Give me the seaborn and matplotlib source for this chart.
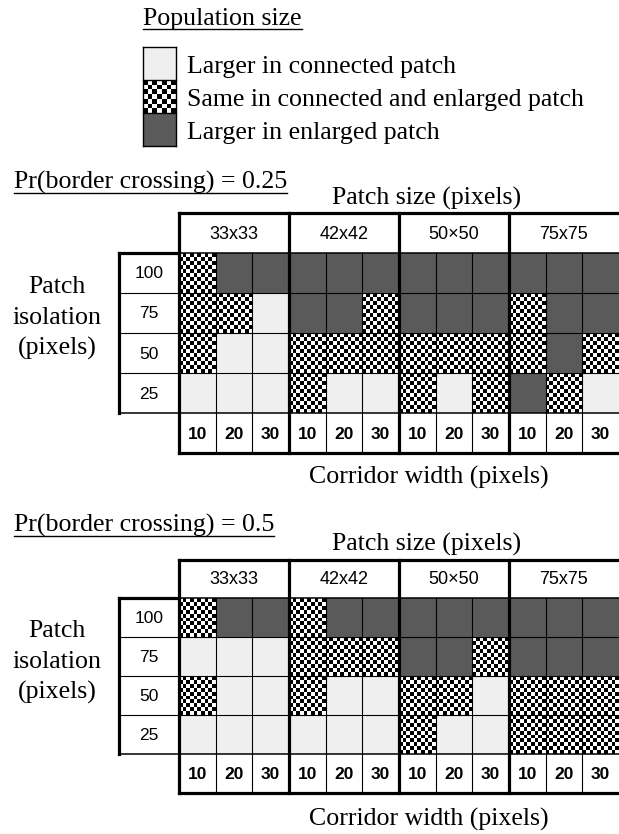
import numpy as np
import matplotlib
matplotlib.use("Agg")
import matplotlib.pyplot as plt
from matplotlib.colors import ListedColormap
import seaborn as sns

# ---------------- data ----------------
legend_title = "Population size"
legend_labels = ["Larger in connected patch",
                 "Same in connected and enlarged patch",
                 "Larger in enlarged patch"]
patch_sizes = ["33x33", "42x42", "50×50", "75x75"]
corridor_widths = ["10", "20", "30"]
isolation = ["100", "75", "50", "25"]
pr_titles = ["Pr(border crossing) = 0.25", "Pr(border crossing) = 0.5"]

# 0 = larger in connected, 1 = same, 2 = larger in enlarged
# rows: isolation 100,75,50,25 ; columns: patch size x corridor width
result_025 = [
    [1, 2, 2,  2, 2, 2,  2, 2, 2,  2, 2, 2],
    [1, 1, 0,  2, 2, 1,  2, 2, 2,  1, 2, 2],
    [1, 0, 0,  1, 1, 1,  1, 1, 1,  1, 2, 1],
    [0, 0, 0,  1, 0, 0,  1, 0, 1,  2, 1, 0],
]
result_05 = [
    [1, 2, 2,  1, 2, 2,  2, 2, 2,  2, 2, 2],
    [0, 0, 0,  1, 1, 1,  2, 2, 1,  2, 2, 2],
    [1, 0, 0,  1, 0, 0,  1, 1, 0,  1, 1, 1],
    [0, 0, 0,  0, 0, 0,  1, 0, 0,  1, 1, 1],
]
results = [result_025, result_05]

# ---------------- style ----------------
W, H = 619, 834
LIGHT, DARK = "#efefef", "#5a5a5a"
cmap = ListedColormap([LIGHT, "#ffffff", "#000000", DARK])
SERIF = ["Liberation Serif", "DejaVu Serif"]
SANS = ["Liberation Sans", "DejaVu Sans"]
FS_SERIF = 18.6

fig = plt.figure(figsize=(W / 100, H / 100), dpi=100)


def fig_rect(x0, y0, x1, y1):
    return [x0 / W, 1 - y1 / H, (x1 - x0) / W, (y1 - y0) / H]


def expand(mat, kx, ky):
    m = np.asarray(mat)
    big = np.kron(m, np.ones((ky, kx), dtype=int))
    rr, cc = np.indices(big.shape)
    checker = (rr + cc) % 2
    return np.where(big == 0, 0, np.where(big == 2, 3, 1 + checker))


def draw_heat(mat, rect, kx, ky):
    ax = fig.add_axes(fig_rect(*rect))
    sns.heatmap(expand(mat, kx, ky), cmap=cmap, vmin=-0.5, vmax=3.5,
                cbar=False, xticklabels=False, yticklabels=False, ax=ax)
    ax.set_axis_off()
    return ax


# legend swatches (heatmap of the three categories)
LEG = (143, 47, 176, 146)
draw_heat([[0], [1], [2]], LEG, 7, 7)

# panel geometry: (top, header bottom, grid bottom, bottom)
panels = [(213, 253, 413, 453), (560, 598, 754, 793)]
X0, X1 = 179, 619
NC = 12
colw = (X1 - X0) / NC
ROWBOX_X = 119

for res, (top, hb, gb, bot) in zip(results, panels):
    draw_heat(res, (X0, hb, X1, gb), 10, 10)

# overlay axes in pixel coordinates
ov = fig.add_axes([0, 0, 1, 1], facecolor="none")
ov.set_xlim(0, W)
ov.set_ylim(H, 0)
ov.set_axis_off()

THICK, MID, THIN = 2.3, 1.1, 0.8


def hline(y, x0, x1, lw):
    ov.plot([x0, x1], [y, y], color="black", lw=lw, solid_capstyle="projecting")


def vline(x, y0, y1, lw):
    ov.plot([x, x], [y0, y1], color="black", lw=lw, solid_capstyle="projecting")


# legend borders
lx0, ly0, lx1, ly1 = LEG
legh = (ly1 - ly0) / 3
for i in range(4):
    hline(ly0 + i * legh, lx0, lx1, 1.0)
vline(lx0, ly0, ly1, 1.0)
vline(lx1, ly0, ly1, 1.0)

renderer = fig.canvas.get_renderer()


def underlined_text(x, y, s):
    t = ov.text(x, y, s, ha="left", va="baseline", fontsize=FS_SERIF,
                family=SERIF)
    bb = t.get_window_extent(renderer)
    inv = ov.transData.inverted()
    (ax0, _), (ax1, _) = inv.transform([[bb.x0, bb.y0], [bb.x1, bb.y1]])
    ov.plot([ax0, ax1], [y + 3.5, y + 3.5], color="black", lw=1.0)


underlined_text(143, 25, legend_title)
for lab, yb in zip(legend_labels, [72.5, 105.5, 138.5]):
    ov.text(187, yb, lab, ha="left", va="baseline", fontsize=FS_SERIF,
            family=SERIF)

pr_baselines = [189, 532]
iso_baselines = [(293, 324, 355), (637, 668, 699)]
ps_baselines = [205, 551]
cw_baselines = [484, 826]

for p, (res, (top, hb, gb, bot)) in enumerate(zip(results, panels)):
    rowh = (gb - hb) / len(isolation)
    # lines
    hline(top, X0, X1, THICK)
    hline(bot, X0, X1, THICK)
    hline(hb, X0, X1, MID)
    hline(gb, X0, X1, MID)
    for i in range(1, len(isolation)):
        hline(hb + i * rowh, ROWBOX_X, X1, THIN)
    for c in range(NC):
        x = X0 + c * colw
        if c % 3 == 0:
            vline(x, top, bot, THICK)
        else:
            vline(x, hb, bot, THIN)
    # row label box
    vline(ROWBOX_X, hb, gb, THICK)
    hline(hb, ROWBOX_X, X0, THICK)
    hline(gb, ROWBOX_X, X0, MID)

    # header labels
    for g, lab in enumerate(patch_sizes):
        ov.text(X0 + (g * 3 + 1.5) * colw, (top + hb) / 2 + 1, lab,
                ha="center", va="center", fontsize=13, family=SANS)
    # row labels
    for i, lab in enumerate(isolation):
        ov.text((ROWBOX_X + X0) / 2, hb + (i + 0.5) * rowh + 1, lab,
                ha="center", va="center", fontsize=12.5, family=SANS)
    # corridor labels
    for c in range(NC):
        ov.text(X0 + (c + 0.5) * colw, (gb + bot) / 2 + 1,
                corridor_widths[c % 3], ha="center", va="center",
                fontsize=12.5, fontweight="bold", family=SANS)

    # titles
    underlined_text(14, pr_baselines[p], pr_titles[p])
    ov.text(427, ps_baselines[p], "Patch size (pixels)", ha="center",
            va="baseline", fontsize=FS_SERIF, family=SERIF)
    ov.text(429, cw_baselines[p], "Corridor width (pixels)", ha="center",
            va="baseline", fontsize=FS_SERIF, family=SERIF)
    for s, yb in zip(["Patch", "isolation", "(pixels)"], iso_baselines[p]):
        ov.text(57, yb, s, ha="center", va="baseline", fontsize=FS_SERIF,
                family=SERIF)

fig.savefig("out.png", dpi=100, facecolor="white")
